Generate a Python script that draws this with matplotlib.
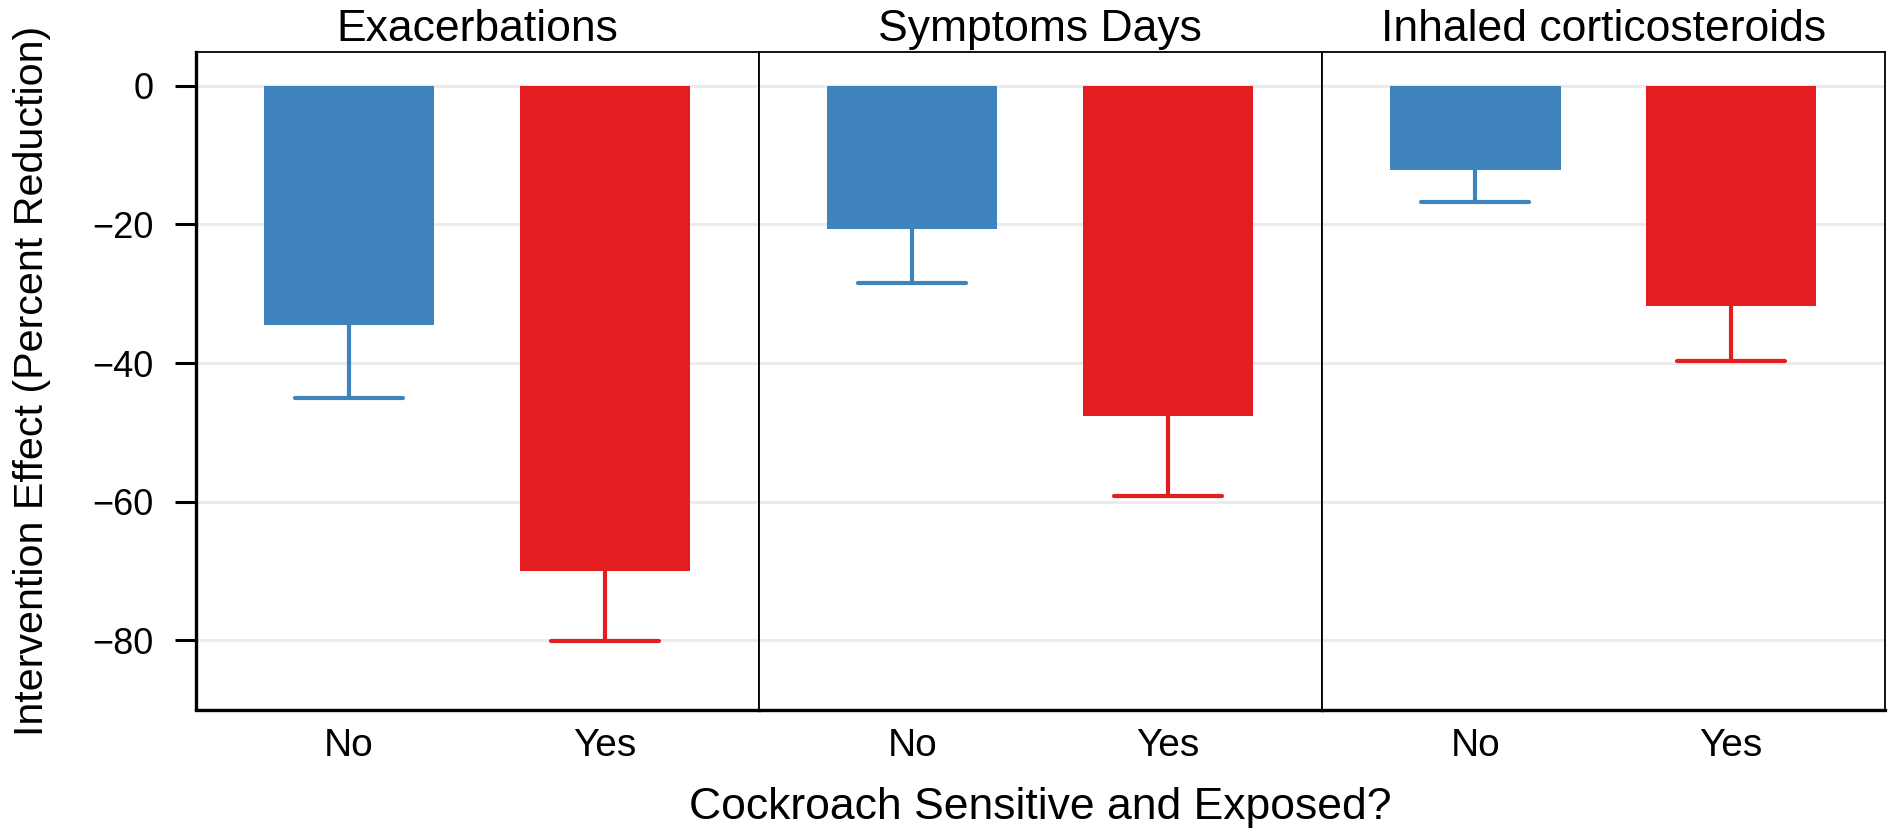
import matplotlib.pyplot as plt

plt.rcParams['font.family'] = ['Liberation Sans', 'DejaVu Sans']

outcomes = ["Exacerbations", "Symptoms Days", "Inhaled corticosteroids"]
groups = ["No", "Yes"]
effect_no = [-34.5, -20.7, -12.2]
effect_yes = [-70.0, -47.6, -31.7]
lower_no = [-45.0, -28.4, -16.7]
lower_yes = [-80.1, -59.2, -39.7]
yticks = [0, -20, -40, -60, -80]

blue = "#3E83BC"
red = "#E41E20"

fig = plt.figure(figsize=(18.92, 8.34), dpi=100)

W, H = 1892, 834
left, right, top, bottom = 195.5, 1884.7, 51.9, 709.5
pw = (right - left) / 3

for i, title in enumerate(outcomes):
    ax = fig.add_axes([(left + i * pw) / W, (H - bottom) / H, pw / W, (bottom - top) / H])
    xs = [1, 2]
    vals = [effect_no[i], effect_yes[i]]
    lows = [lower_no[i], lower_yes[i]]
    cols = [blue, red]
    ax.bar(xs, vals, width=0.667, color=cols, zorder=2)
    # error bars only go down from the bar end
    for x, v, lo, c in zip(xs, vals, lows, cols):
        ax.vlines(x, lo, v, color=c, lw=3.0, zorder=3)
        ax.hlines(lo, x - 0.21, x + 0.21, color=c, lw=3.0, zorder=3, capstyle='round')
    ax.set_xlim(0.4, 2.6)
    ax.set_ylim(-90, 4.9)
    ax.set_yticks(yticks)
    ax.set_xticks(xs)
    ax.set_xticklabels(groups, fontsize=28)
    ax.tick_params(axis='x', length=0, pad=13)
    ax.yaxis.grid(True, color="#EBEBEB", lw=2.2, zorder=0)
    ax.set_axisbelow(True)
    ax.set_title(title, fontsize=32, pad=8)
    for s in ax.spines.values():
        s.set_linewidth(1.3)
        s.set_color("black")
    ax.spines['bottom'].set_linewidth(2.4)
    if i == 0:
        ax.spines['left'].set_linewidth(2.4)
        ax.tick_params(axis='y', length=15, width=2.2, pad=15, labelsize=26)
    else:
        ax.tick_params(axis='y', length=0, labelleft=False)

fig.text(32 / W, 1 - (top + bottom) / 2 / H, "Intervention Effect (Percent Reduction)",
         rotation=90, fontsize=29.7, ha='center', va='center')
fig.text((left + right) / 2 / W, 26 / H, "Cockroach Sensitive and Exposed?",
         fontsize=32, ha='center', va='center')

fig.savefig("out.png", dpi=100)
